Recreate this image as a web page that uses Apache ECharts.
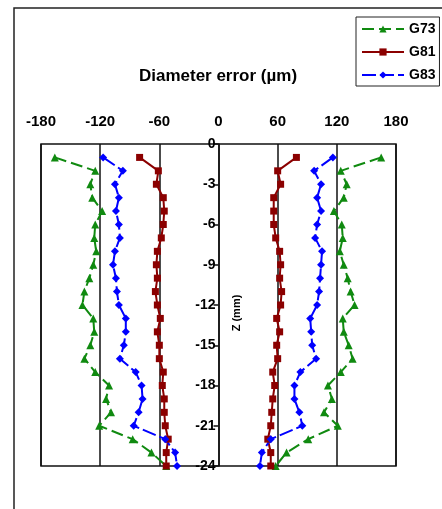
<!DOCTYPE html>
<html>
<head>
<meta charset="utf-8">
<script src="https://cdn.jsdelivr.net/npm/echarts@6/dist/echarts.min.js"></script>
<style>
  html, body { margin: 0; padding: 0; background: #fff; }
  #chart { width: 442px; height: 509px; }
</style>
</head>
<body>
<div id="chart"></div>
<script>
// depth of each measuring point (mm)
var zDepth = [-1, -2, -3, -4, -5, -6, -7, -8, -9, -10, -11, -12,
              -13, -14, -15, -16, -17, -18, -19, -20, -21, -22, -23, -24];
var xTicks = [-180, -120, -60, 0, 60, 120, 180];

// diameter error (um), left and right flank
var g73Left  = [-166, -125, -130, -128, -118, -125, -126, -124, -127, -131, -136, -138,
                -127, -126, -130, -136, -125, -111, -114, -109, -121, -87, -68, -53];
var g73Right = [165, 124, 130, 127, 117, 125, 126, 123, 127, 131, 134, 138,
                126, 127, 132, 136, 124, 111, 115, 107, 121, 91, 69, 58];
var g81Left  = [-80, -61, -63, -56, -55, -56, -58, -62, -63, -62, -64, -62,
                -59, -62, -60, -60, -56, -57, -55, -55, -54, -51, -53, -53];
var g81Right = [79, 60, 63, 56, 56, 56, 58, 62, 63, 62, 64, 63,
                59, 62, 59, 60, 55, 57, 55, 54, 53, 50, 53, 53];
var g83Left  = [-117, -97, -105, -101, -104, -101, -100, -105, -107, -104, -103, -101,
                -94, -94, -96, -100, -84, -78, -77, -81, -86, -54, -44, -42];
var g83Right = [116, 97, 104, 100, 104, 100, 98, 105, 104, 103, 102, 100,
                93, 94, 95, 99, 83, 77, 77, 82, 85, 53, 44, 42];

function pairs(xs) {
  return xs.map(function (v, i) { return [v, zDepth[i]]; });
}

var green = '#108a10', red = '#8b0000', blue = '#0000ff';
var font = 'Liberation Sans';

function mk(name, xs, color, symbol, size, dash) {
  return {
    name: name, type: 'line', data: pairs(xs),
    xAxisIndex: 0, yAxisIndex: 0,
    symbol: symbol, symbolSize: size,
    itemStyle: { color: color },
    lineStyle: { color: color, width: 2, type: dash },
    animation: false
  };
}

var myChart = echarts.init(document.getElementById('chart'));
var option = {
  backgroundColor: '#fff',
  title: {
    text: 'Diameter error (\u00b5m)',
    left: 218, top: 68, textAlign: 'center', padding: 0,
    textStyle: { fontFamily: font, fontSize: 17, fontWeight: 'bold', color: '#000' }
  },
  legend: {
    orient: 'vertical', left: 356, top: 17,
    data: ['G73', 'G81', 'G83'],
    itemWidth: 42, itemHeight: 9, itemGap: 9, itemTextGap: 4,
    padding: [5, 4, 4, 5],
    borderColor: '#222', borderWidth: 1, backgroundColor: '#fff',
    textStyle: { fontFamily: font, fontSize: 14, fontWeight: 'bold', color: '#000' }
  },
  graphic: [{
    type: 'rect', z: -1, silent: true,
    shape: { x: 14, y: 8, width: 460, height: 530 },
    style: { fill: 'none', stroke: '#222', lineWidth: 1.5 }
  }, {
    type: 'text', x: 237, y: 313, rotation: Math.PI / 2, silent: true,
    style: {
      text: 'Z (mm)', fill: '#000', align: 'center', verticalAlign: 'middle',
      font: 'bold 11px "Liberation Sans"'
    }
  }],
  grid: [{
    left: 41, top: 144, width: 355, height: 322, outerBoundsMode: 'none',
    show: true, borderColor: '#111', borderWidth: 1.5, backgroundColor: 'transparent'
  }, {
    // right half, so its y axis sits on x = 0
    left: 218.5, top: 144, width: 177.5, height: 322, outerBoundsMode: 'none'
  }],
  xAxis: [{
    type: 'value', gridIndex: 0, position: 'top', min: -180, max: 180, interval: 60,
    axisLine: { show: false }, axisTick: { show: false },
    splitLine: { show: true, lineStyle: { color: '#111', width: 1.5 } },
    axisLabel: {
      margin: 15, color: '#000', fontFamily: font, fontSize: 15, fontWeight: 'bold',
      formatter: function (v) { return xTicks.indexOf(v) >= 0 ? String(v) : ''; }
    }
  }, {
    type: 'value', gridIndex: 1, min: 0, max: 180, show: false
  }],
  yAxis: [{
    type: 'value', gridIndex: 0, min: -24, max: 0, interval: 3, show: false
  }, {
    type: 'value', gridIndex: 1, min: -24, max: 0, interval: 3,
    axisLine: { show: true, onZero: false, lineStyle: { color: '#111', width: 1.5 } },
    axisTick: { show: true, length: 5, lineStyle: { color: '#111', width: 1.5 } },
    splitLine: { show: false },
    axisLabel: { margin: 3, color: '#000', fontFamily: font, fontSize: 14, fontWeight: 'bold' }
  }],
  series: [
    mk('G73', g73Left, green, 'triangle', 8, [12, 5]),
    mk('G73', g73Right, green, 'triangle', 8, [12, 5]),
    mk('G81', g81Left, red, 'rect', 7, 'solid'),
    mk('G81', g81Right, red, 'rect', 7, 'solid'),
    mk('G83', g83Left, blue, 'diamond', 8, [14, 4]),
    mk('G83', g83Right, blue, 'diamond', 8, [14, 4])
  ]
};
option && myChart.setOption(option);
</script>
</body>
</html>
